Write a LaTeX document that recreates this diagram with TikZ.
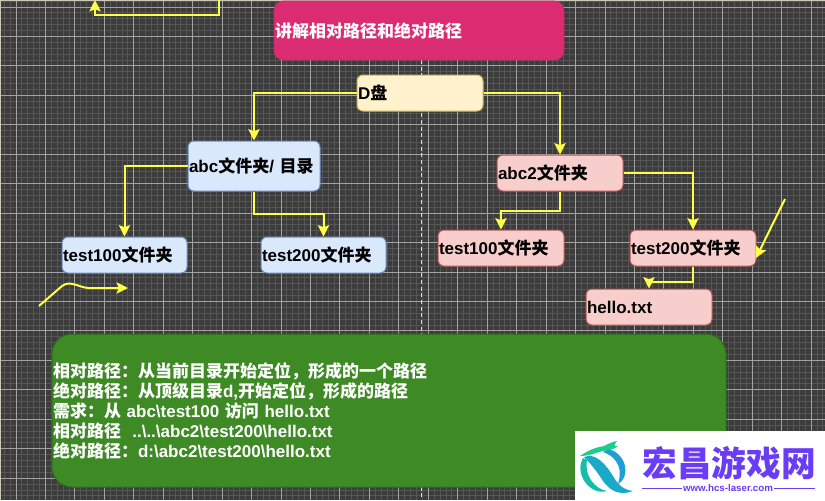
\documentclass[tikz,border=0pt]{standalone}
\usepackage{fontspec}
\setmainfont{Liberation Sans}
\newfontfamily\cjk{Noto Sans CJK SC}
\usetikzlibrary{arrows.meta}
\newcommand{\zh}[1]{{\cjk #1}}
\definecolor{bgdark}{HTML}{3C3C3C}
\definecolor{gridminor}{HTML}{565656}
\definecolor{gridmajor}{HTML}{A2A2A2}
\definecolor{wire}{HTML}{FFFF4A}
\definecolor{wmpurple}{HTML}{6A3CF5}
\tikzset{
  x=0.75pt,y=-0.75pt,
  txt/.style={font=\bfseries\fontsize{12.75}{15}\selectfont,align=left,inner xsep=0.75pt,inner ysep=0pt},
  card/.style={txt,draw,line width=0.75pt,rounded corners=4.5pt,text=black},
  wide/.style={minimum width=#1*0.75pt,text width=#1*0.75pt-1.5pt},
  tall/.style={minimum height=#1*0.75pt},
  blue card/.style={card,fill={rgb,255:red,218;green,232;blue,252},draw={rgb,255:red,108;green,142;blue,191}},
  red card/.style={card,fill={rgb,255:red,248;green,206;blue,204},draw={rgb,255:red,184;green,84;blue,80}},
  wirearrow/.style={draw=wire,line width=1.5pt,-{Stealth[length=8.5pt,width=8.5pt,inset=1.5pt]}},
}
\begin{document}
\begin{tikzpicture}
\useasboundingbox (0,0) rectangle (825,500);
\fill[bgdark] (0,0) rectangle (825,500);
% grid
\draw[gridminor,line width=0.7pt] foreach \i in {-15,...,140} {({16+\i*5.89},0) -- ({16+\i*5.89},500)};
\draw[gridminor,line width=0.7pt] foreach \i in {-5,...,85} {(0,{7+\i*5.89}) -- (825,{7+\i*5.89})};
\draw[gridmajor,line width=0.75pt] foreach \i in {0,...,27} {({16+\i*29.45},0) -- ({16+\i*29.45},500)};
\draw[gridmajor,line width=0.75pt] foreach \i in {0,...,16} {(0,{7+\i*29.45}) -- (825,{7+\i*29.45})};
\draw[color={rgb,255:red,205;green,200;blue,180},line width=1.2pt] (0,500) -- (0,0) -- (825,0);
% dashed centre line
\coordinate (ctop) at (421,60);
\coordinate (cbot) at (421,500);
\draw[white!85!black,line width=0.6pt,dash pattern=on 3pt off 2pt] (ctop) -- (cbot);

% nodes
\node[txt,wide=290,tall=59,fill={rgb,255:red,219;green,43;blue,113},draw={rgb,255:red,205;green,40;blue,105},rounded corners=7pt,text=white] (title) at (419,30.5) {\zh{讲解相对路径和绝对路径}};
\node[card,wide=126,tall=36,fill={rgb,255:red,255;green,242;blue,204},draw={rgb,255:red,214;green,182;blue,86}] (disk) at (420,93) {D\zh{盘}};
\node[blue card,wide=132,tall=50] (abc) at (254,166) {abc\zh{文件夹}/ \zh{目录}};
\node[blue card,wide=125,tall=36] (ltest) at (124.5,255) {test100\zh{文件夹}};
\node[blue card,wide=125,tall=36] (ltwo) at (323.5,255) {test200\zh{文件夹}};
\node[red card,wide=126,tall=36] (abctwo) at (560,173) {abc2\zh{文件夹}};
\node[red card,wide=126,tall=36] (rtest) at (501,248) {test100\zh{文件夹}};
\node[red card,wide=126,tall=36] (rtwo) at (693,248) {test200\zh{文件夹}};
\node[red card,wide=126,tall=36] (hello) at (649,307) {hello.txt};
\node[txt,wide=674,tall=153,fill={rgb,255:red,62;green,138;blue,37},draw={rgb,255:red,45;green,110;blue,28},line width=0.75pt,rounded corners=15pt,text=white,inner xsep=0.75pt] (note) at (389,410.5) {%
\zh{相对路径：从当前目录开始定位，形成的一个路径}\\
\zh{绝对路径：从顶级目录}d,\zh{开始定位，形成的路径}\\
\zh{需求：从} abc\textbackslash test100 \zh{访问} hello.txt\\
\zh{相对路径}\ \ ..\textbackslash..\textbackslash abc2\textbackslash test200\textbackslash hello.txt\\
\zh{绝对路径：}d:\textbackslash abc2\textbackslash test200\textbackslash hello.txt};

% connectors
\draw[wirearrow] (disk.west) -| (abc.north);
\draw[wirearrow] (disk.east) -| (abctwo.north);
\draw[wirearrow] (abc.west) -| (ltest.north);
\draw[wirearrow] (abc.south) -- ++(0,22) -| (ltwo.north);
\draw[wirearrow] (abctwo.south) -- ++(0,19) -| (rtest.north);
\draw[wirearrow] (abctwo.east) -| (rtwo.north);
\draw[wirearrow] (rtwo.south) -- ++(0,15) -| (hello.north);
\coordinate (topstart) at (219,0);
\coordinate (topend) at (95,0);
\draw[wirearrow] (topstart) -- (219,15) -- (95,15) -- (topend);
\coordinate (slantstart) at (785,199);
\coordinate (slantend) at (756,258);
\draw[wirearrow] (slantstart) -- (slantend);
\coordinate (curvestart) at (39,306);
\coordinate (curveend) at (128,288);
\draw[wirearrow] (curvestart) -- (62,286) .. controls (70,280) and (78,287) .. (88,288) -- (curveend);

% watermark
\node[fill=white,inner sep=0pt,minimum width=250*0.75pt,minimum height=69*0.75pt] (wm) at (700,465.5) {};
\node[text=wmpurple,font=\cjk\bfseries\fontsize{26}{27}\selectfont,inner sep=0pt] (wmtext) at (729,463) {宏昌游戏网};
\node[text=wmpurple,font=\bfseries\fontsize{7.3}{8}\selectfont,inner sep=0pt] (wmurl) at (728,488.5) {www.hcs-laser.com};
\coordinate (lruleA) at (642,488.5);
\coordinate (lruleB) at (682,488.5);
\coordinate (rruleA) at (774,488.5);
\coordinate (rruleB) at (815,488.5);
\draw[wmpurple,line width=1pt] (lruleA) -- (lruleB);
\draw[wmpurple,line width=1pt] (rruleA) -- (rruleB);
% logo
\fill[color={rgb,255:red,30;green,205;blue,140}] (580,456) .. controls (590,449) and (598,447) .. (604,446) .. controls (610,443) and (612,442) .. (617,441) .. controls (614,445) and (613,447) .. (618,446) .. controls (612,451) and (604,450) .. (596,453) .. controls (590,455) and (585,456) .. (580,456) -- cycle;
\fill[color={rgb,255:red,30;green,160;blue,215}] (609,449) .. controls (628,455) and (630,478) .. (618,484) .. controls (622,472) and (620,458) .. (603,452) -- cycle;
\fill[color={rgb,255:red,20;green,190;blue,170}] (583,458) .. controls (574,474) and (590,496) .. (607,491) .. controls (595,489) and (584,476) .. (587,460) -- cycle;
\fill[color={rgb,255:red,25;green,170;blue,200}] (584,457) .. controls (596,452) and (606,465) .. (613,476) .. controls (618,485) and (624,490) .. (633,491) .. controls (620,496) and (610,491) .. (603,481) .. controls (596,470) and (590,463) .. (584,457) -- cycle;
\end{tikzpicture}
\end{document}
